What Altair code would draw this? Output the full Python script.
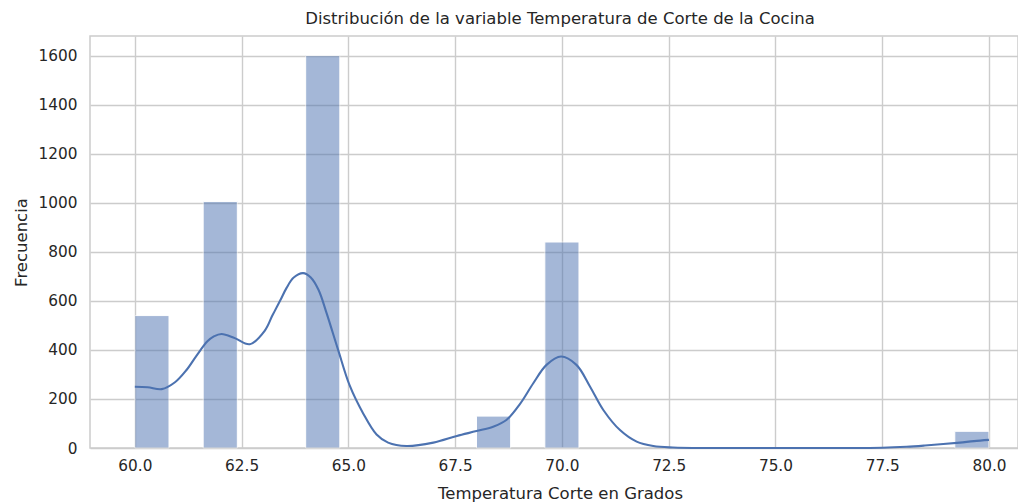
import altair as alt
import pandas as pd

# Histogram bins (width 0.8) that hold observations, and their counts
bin_start = [60.0, 61.6, 64.0, 68.0, 69.6, 79.2]
bin_end = [60.8, 62.4, 64.8, 68.8, 70.4, 80.0]
counts = [540, 1005, 1600, 130, 840, 68]

# Kernel density estimate, scaled to counts
kde_x = [60.0, 60.3, 60.63, 60.94, 61.2, 61.45, 61.7, 61.85, 62.03, 62.34,
         62.69, 63.04, 63.22, 63.4, 63.55, 63.72, 63.94, 64.12, 64.3, 64.49,
         64.76, 65.03, 65.35, 65.66, 65.93, 66.36, 66.99, 67.54, 68.0, 68.39,
         68.7, 69.02, 69.33, 69.64, 69.98, 70.34, 70.66, 70.97, 71.36, 71.75,
         72.14, 72.6, 73.5, 75.0, 76.5, 77.5, 78.07, 78.5, 78.93, 79.32,
         79.65, 80.0]
kde_y = [250, 248, 240, 268, 316, 378, 435, 455, 465, 448,
         423, 478, 540, 600, 652, 695, 713, 695, 645, 550,
         400, 255, 140, 55, 22, 8, 22, 49, 69, 87,
         114, 180, 264, 339, 373, 339, 250, 155, 73, 26,
         8, 2, 0, 0, 0, 1, 5, 10, 16, 22,
         28, 33]

x_ticks = [60.0, 62.5, 65.0, 67.5, 70.0, 72.5, 75.0, 77.5, 80.0]
y_ticks = [0, 200, 400, 600, 800, 1000, 1200, 1400, 1600]

bars_df = pd.DataFrame({"start": bin_start, "end": bin_end, "count": counts})
kde_df = pd.DataFrame({"x": kde_x, "y": kde_y})

FONT = "DejaVu Sans"
TEXT = "#262626"
BLUE = "#4c72b0"

x_scale = alt.Scale(domain=[58.95, 80.68], nice=False, zero=False)
y_scale = alt.Scale(domain=[0, 1680], nice=False)

x_axis = alt.Axis(
    title="Temperatura Corte en Grados",
    values=x_ticks, format=".1f",
    grid=True, ticks=False, domain=False,
    labelPadding=10,
    titleX=470, titleY=50, titleBaseline="alphabetic",
)
y_axis = alt.Axis(
    title="Frecuencia",
    values=y_ticks, format="d",
    grid=True, ticks=False, domain=False,
    labelPadding=13,
    titleX=-64, titleY=206, titleBaseline="alphabetic", titleAngle=-90,
)

bars = alt.Chart(bars_df).mark_bar(
    color=BLUE, opacity=0.5, stroke="white", strokeWidth=1, strokeOpacity=1
).encode(
    x=alt.X("start:Q", scale=x_scale, axis=x_axis),
    x2="end:Q",
    y=alt.Y("count:Q", scale=y_scale, axis=y_axis),
    y2=alt.Y2(datum=0),
)

kde = alt.Chart(kde_df).mark_line(
    color=BLUE, strokeWidth=2.1, interpolate="catmull-rom"
).encode(
    x=alt.X("x:Q", scale=x_scale),
    y=alt.Y("y:Q", scale=y_scale),
)

chart = alt.layer(bars, kde).properties(
    width=928,
    height=412,
    background="white",
    autosize=alt.AutoSizeParams(type="none"),
    padding={"left": 90, "top": 36, "right": 0, "bottom": 56},
    title=alt.TitleParams(
        "Distribución de la variable Temperatura de Corte de la Cocina",
        anchor="middle", dx=6, dy=15, offset=11, baseline="alphabetic",
        font=FONT, fontSize=16.5, fontWeight="normal", color=TEXT,
    ),
).configure_view(
    stroke="#cccccc", strokeWidth=1.5
).configure_axis(
    labelFont=FONT, labelFontSize=15.3, labelColor=TEXT,
    titleFont=FONT, titleFontSize=16.5, titleFontWeight="normal", titleColor=TEXT,
    gridColor="#cccccc", gridWidth=1.4, gridOpacity=1,
)

chart.save("out.html", embed_options={"renderer": "svg", "actions": False})
